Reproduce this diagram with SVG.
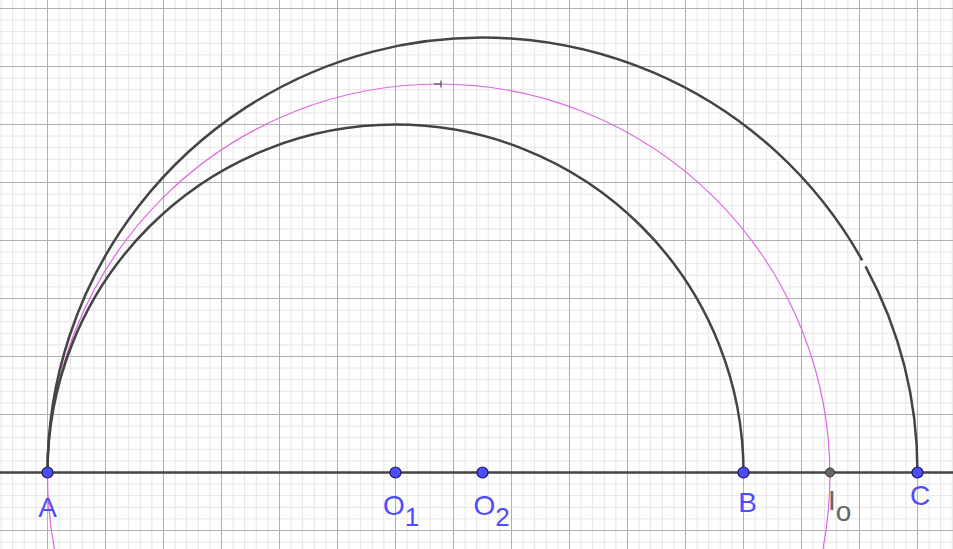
<svg xmlns="http://www.w3.org/2000/svg" width="953" height="549" viewBox="0 0 953 549">
<defs>
<pattern id="grid" patternUnits="userSpaceOnUse" x="47" y="8" width="58" height="58">
<path d="M12.1,0V58M23.7,0V58M35.3,0V58M46.9,0V58M0,12.1H58M0,23.7H58M0,35.3H58M0,46.9H58" stroke="#e6e6e6" stroke-width="1" fill="none"/>
<path d="M0.5,0V58M0,0.5H58" stroke="#b0b0b0" stroke-width="1" fill="none"/>
</pattern>
<style>
.arc{fill:none;stroke:#444;stroke-width:2.5}
.pink{fill:none;stroke:#e066e6;stroke-width:1.2}
.pt{fill:#4d4dff;stroke:#1a1a55;stroke-width:1.2}
.gpt{fill:#666;stroke:#333;stroke-width:1}
.lbl{font-family:"Liberation Sans",Arial,sans-serif;font-size:28px;fill:#4d4dff}
.glbl{font-family:"Liberation Sans",Arial,sans-serif;font-size:28px;fill:#666}
</style>
</defs>
<rect width="953" height="549" fill="#fff"/>
<rect width="953" height="549" fill="url(#grid)"/>
<g id="connectors">
<path id="axis" d="M0,472.5H953" class="arc"/>
<circle id="pinkCircle" cx="438.7" cy="475.2" r="391.2" class="pink"/>
<path id="arc1" d="M47.5,472.5A348,348 0 0 1 743.5,472.5" class="arc"/>
<path id="arc2" d="M47.5,472.5A435,435 0 0 1 862.2,260.3M865.5,266.3A435,435 0 0 1 917.5,472.5" class="arc"/>
<path id="mark" d="M434,84H441M441,80.5V87.5" stroke="#333" stroke-width="1" fill="none"/>
</g>
<g id="A"><circle cx="47.5" cy="472.5" r="5.5" class="pt"/><text x="47.5" y="517" text-anchor="middle" class="lbl">A</text></g>
<g id="O1"><circle cx="395.5" cy="472.5" r="5.5" class="pt"/><text x="383" y="515" class="lbl">O<tspan dy="11" font-size="26">1</tspan></text></g>
<g id="O2"><circle cx="482.5" cy="472.5" r="5.5" class="pt"/><text x="473.5" y="515" class="lbl">O<tspan dy="11" font-size="26">2</tspan></text></g>
<g id="B"><circle cx="743.5" cy="472.5" r="5.5" class="pt"/><text x="747.5" y="512" text-anchor="middle" class="lbl">B</text></g>
<g id="Io"><circle cx="830" cy="472.5" r="4.5" class="gpt"/><text x="828" y="510" class="glbl">I<tspan dy="11">o</tspan></text></g>
<g id="C"><circle cx="917.5" cy="472.5" r="5.5" class="pt"/><text x="920" y="505" text-anchor="middle" class="lbl">C</text></g>
</svg>
